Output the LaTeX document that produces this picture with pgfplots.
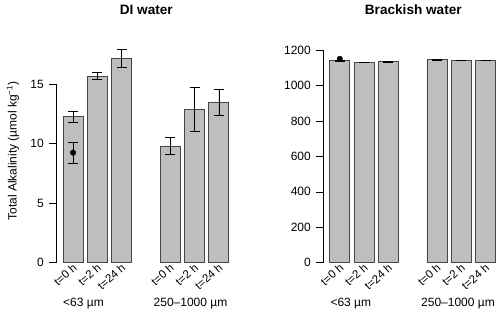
\documentclass[border=0pt]{standalone}
\usepackage{fontspec}
\setmainfont{Liberation Sans}
\usepackage{pgfplots}
\pgfplotsset{compat=1.18}
\definecolor{barfill}{RGB}{190,190,190}
\definecolor{barline}{RGB}{70,70,70}
\pgfplotsset{
  rpanel/.style={
    scale only axis,
    anchor=south west,
    axis y line=left,
    axis x line=bottom,
    x axis line style={draw=none},
    y axis line style={-, black, line width=0.6pt},
    xtick={0,1,2,4,5,6},
    xticklabels={t=0 h,t=2 h,t=24 h,t=0 h,t=2 h,t=24 h},
    major x tick style={draw=none},
    major y tick style={black, line width=0.6pt},
    tick align=outside,
    major tick length=7pt,
    ymin=0,
    clip=false,
    /pgf/number format/assume math mode=true,
    ticklabel style={font=\fontsize{12}{14}\selectfont},
    xticklabel style={font=\fontsize{11.5}{13}\selectfont, rotate=42, anchor=north east, inner sep=0pt, yshift=6pt, xshift=4pt},
    yticklabel style={inner sep=1pt, xshift=-4pt},
    scaled y ticks=false,
    /pgf/number format/1000 sep={},
  },
  barst/.style={ybar, bar width=20pt, bar shift=0pt, fill=barfill, draw=barline, line width=0.7pt,
    error bars/.cd, y dir=both, y explicit,
    error bar style={black, line width=0.6pt},
    error mark options={black, rotate=90, mark size=5pt, line width=0.6pt}},
}
\begin{document}
\begin{tikzpicture}[x=1pt,y=1pt]
\path[use as bounding box] (0,0) rectangle (500,314);
% Left panel
\begin{axis}[rpanel, at={(56pt,51.5pt)}, width=175pt, height=178.5pt,
  xmin=-0.7, xmax=6.5, ymax=15, ytick={0,5,10,15}]
\addplot[barst] coordinates {
 (0,12.25) +- (0,0.43)
 (1,15.67) +- (0,0.30)
 (2,17.16) +- (0,0.73)
 (4,9.80) +- (0,0.73)
 (5,12.87) +- (0,1.85)
 (6,13.43) +- (0,1.10)
};
\addplot[only marks, mark=*, mark size=2.8pt, black,
  error bars/.cd, y dir=both, y explicit,
  error bar style={black, line width=0.6pt},
  error mark options={black, rotate=90, mark size=5pt, line width=0.6pt}]
  coordinates {(0,9.23) +- (0,0.91)};
\end{axis}
% Right panel
\begin{axis}[rpanel, at={(323pt,51.3pt)}, width=172.3pt, height=212.7pt,
  xmin=-0.69, xmax=6.4, ymax=1200, ytick={0,200,400,600,800,1000,1200}]
\addplot[barst] coordinates {
 (0,1141) +- (0,2)
 (1,1131) +- (0,2)
 (2,1134) +- (0,2)
 (4,1146) +- (0,2)
 (5,1142) +- (0,2)
 (6,1142) +- (0,2)
};
\addplot[only marks, mark=*, mark size=2.8pt, black] coordinates {(0,1150)};
\end{axis}
% Titles and labels
\node[font=\fontsize{13.6}{16}\selectfont\bfseries] at (146.3,304) {DI water};
\node[font=\fontsize{13.6}{16}\selectfont\bfseries] at (413.3,304) {Brackish water};
\node[rotate=90, font=\fontsize{12}{14}\selectfont] at (13,163) {Total Alkalinity (µmol kg\textsuperscript{−1})};
\node[font=\fontsize{12}{14}\selectfont] at (83.5,10) {<63 µm};
\node[font=\fontsize{12}{14}\selectfont] at (190.5,10) {250–1000 µm};
\node[font=\fontsize{12}{14}\selectfont] at (350.8,10) {<63 µm};
\node[font=\fontsize{12}{14}\selectfont] at (458,10) {250–1000 µm};
\end{tikzpicture}
\end{document}
